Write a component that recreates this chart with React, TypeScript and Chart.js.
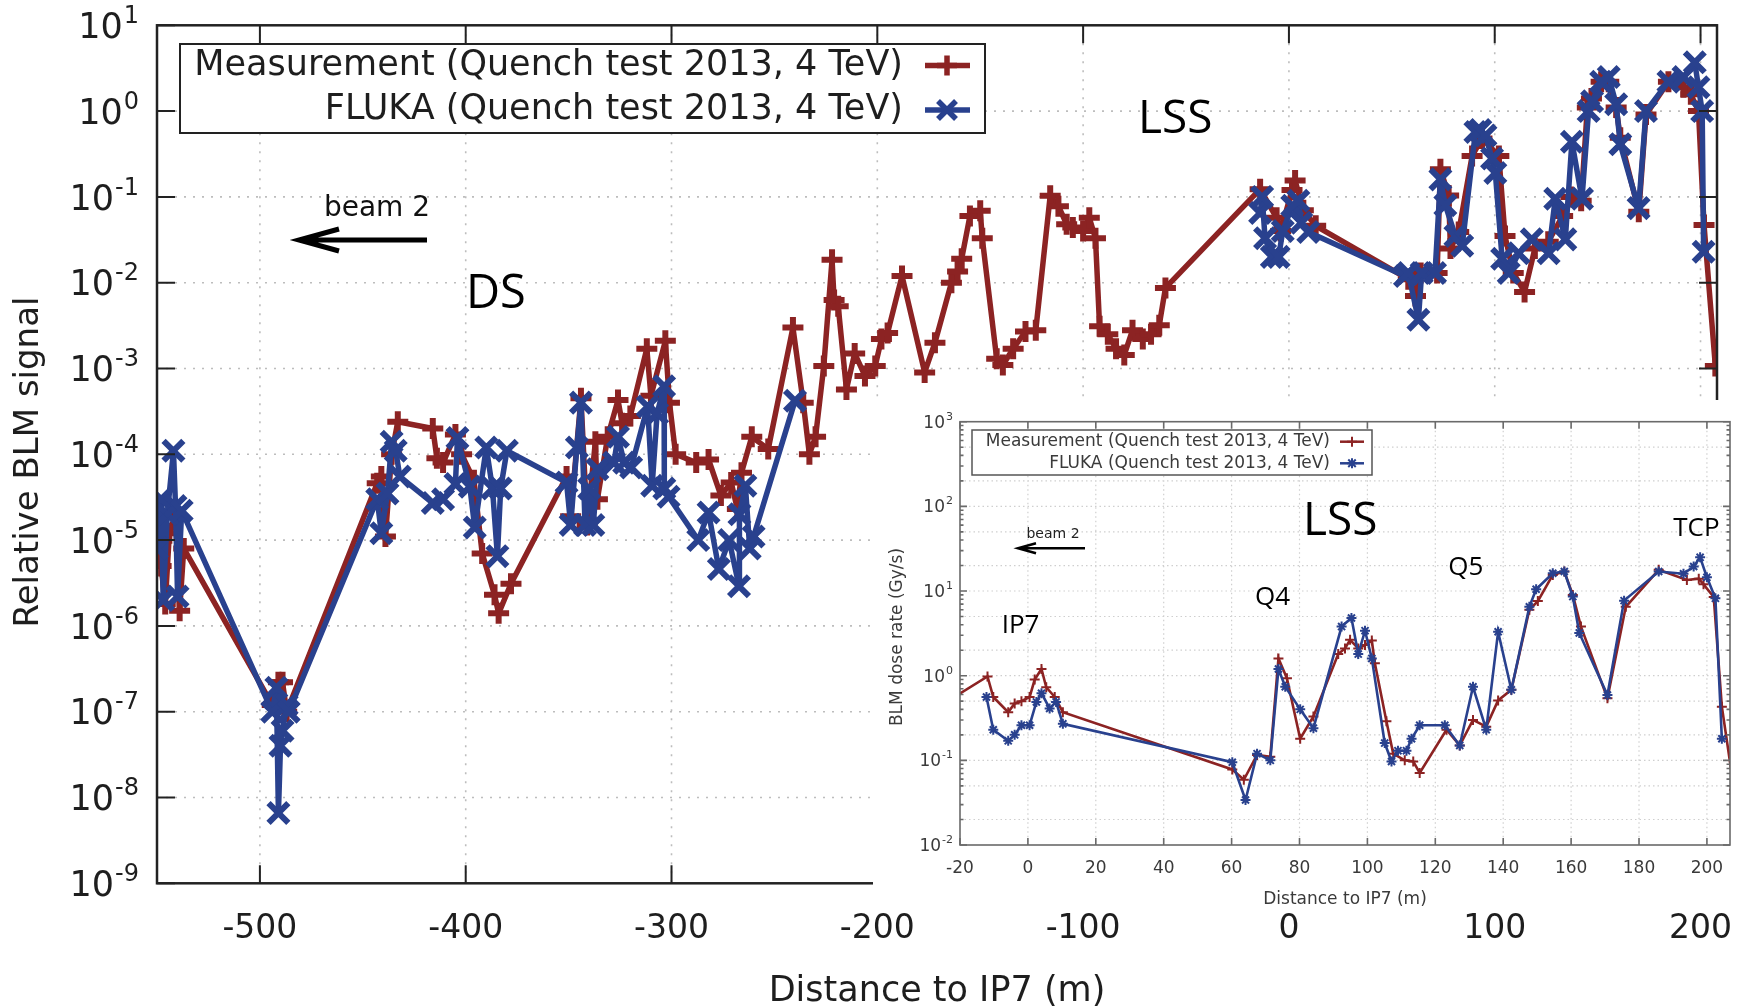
import React, { useEffect, useRef } from "react";
import { Chart, registerables } from "chart.js";

Chart.register(...registerables);

const RED = "#8c2323";
const BLUE = "#29418e";
const GNU_FONT = '"DejaVu Sans", sans-serif';
const ANNO_FONT = '"Open Sans", "Noto Sans", sans-serif';

// ---------- Main chart data ----------
const measX = [
  -550, -548, -546, -544, -541, -539, -537,
  -494, -491, -489, -487,
  -443, -441, -439, -436, -433, -416, -414, -411, -405, -402, -396, -392, -386, -384, -378,
  -351, -349, -344, -341, -337, -336, -331, -326, -324, -320, -312, -310, -303, -301, -298,
  -288, -282, -276, -271, -268, -266, -261, -253, -241, -236, -233, -230, -226, -222, -221,
  -219, -215, -211, -206, -201, -198, -195, -188, -177, -172, -164, -161, -159, -155, -150,
  -149, -142, -139, -134, -128, -123, -116, -112, -108, -105, -100, -97, -94, -92, -88, -84,
  -80, -76, -71, -67, -63, -60,
  -14, -6, -4, 1.5, 3, 7, 13,
  58, 61.5, 64, 72, 73.6, 77.6, 78.5, 82.5, 89, 93.8, 102, 105, 109, 114.5, 119.5, 126, 133,
  137, 142, 145, 147, 151.7, 155.4, 159, 161, 170, 173.5, 184.4, 191.7, 195.3, 199, 201.7, 207.2,
];
const measY = [
  1e-5, 5e-6, 1.8e-6, 1.2e-5, 2e-5, 1.5e-6, 8e-6,
  1.2e-7, 2.2e-7, 2.2e-7, 1e-7,
  4.6e-5, 5.5e-5, 1.1e-5, 1e-4, 2.4e-4, 2e-4, 9e-5, 8e-5, 1.7e-4, 1e-4, 5e-5, 7e-6, 2.3e-6, 1.4e-6, 3.1e-6,
  5.5e-5, 1.9e-5, 4.5e-4, 1.5e-5, 1.4e-4, 3e-5, 1.6e-4, 4.3e-4, 2.3e-4, 2.8e-4, 1.7e-3, 4.8e-4, 2.1e-3, 4e-4, 1e-4,
  8e-5, 8.7e-5, 3.3e-5, 4.7e-5, 2.3e-5, 6.1e-5, 1.6e-4, 1.15e-4, 3e-3, 4e-4, 1e-4, 1.6e-4, 1.07e-3, 1.85e-2, 6.3e-3,
  5.3e-3, 5.7e-4, 1.5e-3, 8.2e-4, 1.07e-3, 2.2e-3, 2.6e-3, 1.2e-2, 9e-4, 2e-3, 1e-2, 1.35e-2, 1.9e-2, 6e-2, 6.9e-2,
  3.3e-2, 1.3e-3, 1.1e-3, 1.7e-3, 2.7e-3, 2.8e-3, 1.03e-1, 7.8e-2, 4.8e-2, 4.4e-2, 4e-2, 5.7e-2, 3.3e-2, 3.1e-3, 2.5e-3, 1.7e-3,
  1.44e-3, 2.8e-3, 2.2e-3, 2.5e-3, 3.2e-3, 8.7e-3,
  1.23e-1, 5.7e-2, 4e-2, 1.2e-1, 1.55e-1, 7e-2, 4.6e-2,
  1.1e-2, 7e-3, 1.3e-2, 1.3e-2, 0.21, 0.104, 2.5e-2, 3.9e-2, 0.3, 0.48, 0.3, 3.5e-2, 1.3e-2, 7.8e-3, 2.5e-2, 3e-2, 6e-2,
  0.1, 9e-2, 1.1, 1.4, 2.2, 2.2, 1.1, 0.49, 0.067, 0.91, 2.2, 1.9, 1.57, 1.0, 0.047, 1.07e-3,
];

const flukaX = [
  -550, -548, -547, -545, -542, -541, -540, -538,
  -494, -492, -491, -490, -489, -487, -486,
  -443, -441, -438, -436, -434, -432, -416, -411, -405, -404, -398, -395.6, -390, -387, -384.6, -383, -380,
  -351, -349, -346, -344, -342, -340, -338, -336, -328, -326, -323, -319.6, -311.6, -309.4, -307, -303.6, -303.5, -301.4,
  -287, -282, -277, -272, -267.2, -267, -264.1, -262, -260.1, -240,
  -150,
  -14, -13, -11.6, -8.3, -5, -3, 1.6, 4.6, 6, 9.4,
  56.4, 58, 62.9, 64.5, 71, 73.6, 76, 80.9, 84.2, 90.6, 93, 95.5, 98.7, 100.3, 103.6, 106.8, 111.6, 118,
  126.2, 129.4, 134.3, 137.5, 142.4, 145.6, 147.3, 151.7, 155.4, 159, 161, 169.9, 173.5, 184.4, 191.7,
  197.2, 199, 200.8, 201.5,
];
const flukaY = [
  8e-6, 3e-5, 2e-6, 2e-5, 1.1e-4, 2.5e-5, 2.2e-6, 2.2e-5,
  1e-7, 1.9e-7, 6.6e-9, 4e-8, 6e-8, 1.2e-7, 1e-7,
  3e-5, 1.2e-5, 3.5e-5, 1.4e-4, 1.1e-4, 5.5e-5, 2.7e-5, 3e-5, 4.5e-5, 1.55e-4, 4.2e-5, 1.4e-5, 1.2e-4, 4e-5, 6.5e-6, 4e-5, 1.1e-4,
  4.7e-5, 1.5e-5, 1.2e-4, 4e-4, 1.5e-5, 4e-5, 1.5e-5, 6.7e-5, 8e-5, 1.6e-4, 8e-5, 7e-5, 3.6e-4, 4.3e-5, 3e-4, 6.2e-4, 4e-5, 3.2e-5,
  1e-5, 2.1e-5, 4.6e-6, 1e-5, 2.9e-6, 2e-5, 4.3e-5, 8e-6, 1.1e-5, 4.2e-4,
  null,
  6.5e-2, 0.1, 3.3e-2, 2e-2, 2e-2, 4e-2, 7.9e-2, 9e-2, 5e-2, 3.9e-2,
  1.2e-2, 1.3e-2, 3.7e-3, 1.3e-2, 1.3e-2, 0.16, 8e-2, 3.5e-2, 2.7e-2, 0.57, 0.6, 0.52, 0.28, 0.19, 1.9e-2, 1.3e-2, 2.2e-2, 3.2e-2,
  2.2e-2, 9.5e-2, 3.2e-2, 0.44, 9.5e-2, 1.0, 1.3, 2.2, 2.5, 1.2, 0.41, 0.074, 1.0, 2.2, 2.5,
  3.7, 1.9, 1.0, 0.023,
];

// ---------- Inset data ----------
const insetMeasX = [
  -22, -11.9, -10.2, -5.8, -3.9, -1.9, 0.5, 2, 4, 5.4, 7.9, 10.3,
  60.2, 63.6, 67.5, 71.4, 73.8, 76.3, 80.2, 84.1, 91.4, 93.4, 94.9, 97.3, 99.3, 101.3, 102.2,
  105.6, 107.6, 111, 113.5, 115.4, 123.3, 127.2, 131.1, 135, 138.5, 142.4, 147.7, 150.2, 154.6,
  158, 160.5, 162.9, 170.7, 176.1, 185.8, 194.1, 197.6, 199, 202, 204.4, 208,
];
const insetMeasY = [
  0.55, 0.98, 0.56, 0.37, 0.47, 0.5, 0.56, 0.9, 1.2, 0.73, 0.56, 0.37,
  0.078, 0.059, 0.116, 0.11, 1.6, 0.93, 0.18, 0.33, 1.8, 2.1, 2.65, 2.1, 2.3, 2.6, 1.4,
  0.29, 0.12, 0.1, 0.097, 0.071, 0.23, 0.15, 0.3, 0.25, 0.51, 0.68, 6, 7.6, 15.5,
  17, 9, 3.8, 0.54, 6.5, 17.8, 13.5, 14, 12, 8.5, 0.43, 0.045,
];
const insetFlukaX = [
  -12.2, -10.2, -5.8, -3.9, -1.9, 0.5, 2.5, 4, 6.4, 8.3, 10.3,
  60.2, 64.1, 67.5, 71.4, 73.8, 75.8, 80.2, 84.1, 92.4, 95.3, 97.3, 99.3, 101.3,
  105.1, 107.1, 109, 111.5, 113, 115.4, 122.8, 127.2, 131.1, 135, 138.5, 142.4, 147.7, 149.7,
  154.6, 158, 160.5, 162.4, 170.7, 175.6, 185.8, 193.1, 196.1, 198, 200, 202.5, 204.4,
];
const insetFlukaY = [
  0.56, 0.23, 0.17, 0.2, 0.26, 0.26, 0.49, 0.62, 0.41, 0.49, 0.27,
  0.095, 0.034, 0.12, 0.1, 1.2, 0.74, 0.4, 0.24, 3.8, 4.8, 1.8, 3.4, 1.6,
  0.16, 0.097, 0.13, 0.13, 0.18, 0.26, 0.26, 0.15, 0.74, 0.23, 3.3, 0.68, 6.5, 10.5,
  16.2, 17, 8.6, 3.2, 0.59, 7.7, 17, 16, 19.5, 25, 14.5, 8.2, 0.18,
];

// ---------- Labels and ticks ----------
const seriesLabels = [
  "Measurement (Quench test 2013, 4 TeV)",
  "FLUKA (Quench test 2013, 4 TeV)",
];
const mainXTicks = [-500, -400, -300, -200, -100, 0, 100, 200];
const mainYExps = [1, 0, -1, -2, -3, -4, -5, -6, -7, -8, -9];
const insetXTicks = [-20, 0, 20, 40, 60, 80, 100, 120, 140, 160, 180, 200];
const insetYExps = [3, 2, 1, 0, -1, -2];
const mainXTitle = "Distance to IP7 (m)";
const mainYTitle = "Relative BLM signal";
const insetXTitle = "Distance to IP7 (m)";
const insetYTitle = "BLM dose rate (Gy/s)";

function pts(xs: number[], ys: (number | null)[]) {
  return xs.map((x, i) => ({ x, y: ys[i] }));
}

function drawPow(ctx: any, exp: number, xRight: number, yc: number, bs: number, es: number, raise: number, font: string) {
  ctx.font = `${bs}px ${font}`;
  const bw = ctx.measureText("10").width;
  ctx.font = `${es}px ${font}`;
  const es_ = String(exp);
  const ew = ctx.measureText(es_).width;
  const x0 = xRight - ew - bw - 1;
  ctx.textAlign = "left";
  ctx.textBaseline = "alphabetic";
  const base = yc + bs * 0.36;
  ctx.font = `${bs}px ${font}`;
  ctx.fillText("10", x0, base);
  ctx.font = `${es}px ${font}`;
  ctx.fillText(es_, x0 + bw + 1, base - raise);
}

function drawMarker(ctx: any, kind: string, x: number, y: number, r: number) {
  ctx.beginPath();
  if (kind === "plus" || kind === "star") {
    ctx.moveTo(x - r, y); ctx.lineTo(x + r, y);
    ctx.moveTo(x, y - r); ctx.lineTo(x, y + r);
  }
  if (kind === "x" || kind === "star") {
    const d = r * 0.75;
    ctx.moveTo(x - d, y - d); ctx.lineTo(x + d, y + d);
    ctx.moveTo(x - d, y + d); ctx.lineTo(x + d, y - d);
  }
  ctx.stroke();
}

function drawArrow(ctx: any, x1: number, x2: number, y: number, head: number, half: number, lw: number) {
  ctx.save();
  ctx.strokeStyle = "#000";
  ctx.lineWidth = lw;
  ctx.lineCap = "butt";
  ctx.beginPath();
  ctx.moveTo(x1, y); ctx.lineTo(x2, y);
  ctx.moveTo(x2 + head, y - half); ctx.lineTo(x2, y); ctx.lineTo(x2 + head, y + half);
  ctx.stroke();
  ctx.restore();
}

const mainDecor = {
  id: "mainDecor",
  beforeDatasetsDraw(chart: any) {
    const { ctx, chartArea: a, scales } = chart;
    const xs = scales.x, ys = scales.y;
    ctx.save();
    ctx.strokeStyle = "#bdbdbd";
    ctx.lineWidth = 1.6;
    ctx.setLineDash([2, 7]);
    ctx.beginPath();
    for (const v of mainXTicks) {
      const px = xs.getPixelForValue(v);
      ctx.moveTo(px, a.top); ctx.lineTo(px, a.bottom);
    }
    for (const e of mainYExps) {
      const py = ys.getPixelForValue(Math.pow(10, e));
      if (py <= a.top + 1 || py >= a.bottom - 1) continue;
      ctx.moveTo(a.left, py); ctx.lineTo(a.right, py);
    }
    ctx.stroke();
    ctx.restore();
  },
  afterDatasetsDraw(chart: any) {
    const { ctx, chartArea: a, scales } = chart;
    const xs = scales.x, ys = scales.y;
    ctx.save();
    ctx.setLineDash([]);
    ctx.strokeStyle = "#222";
    ctx.lineWidth = 2.5;
    ctx.strokeRect(a.left, a.top, a.right - a.left, a.bottom - a.top);
    ctx.lineWidth = 2;
    const TL = 18;
    ctx.beginPath();
    for (const v of mainXTicks) {
      const px = xs.getPixelForValue(v);
      ctx.moveTo(px, a.bottom); ctx.lineTo(px, a.bottom - TL);
      ctx.moveTo(px, a.top); ctx.lineTo(px, a.top + TL);
    }
    for (const e of mainYExps) {
      const py = ys.getPixelForValue(Math.pow(10, e));
      ctx.moveTo(a.left, py); ctx.lineTo(a.left + TL, py);
      ctx.moveTo(a.right, py); ctx.lineTo(a.right - TL, py);
    }
    ctx.stroke();

    // tick labels
    ctx.fillStyle = "#1e1e1e";
    ctx.font = `33px ${GNU_FONT}`;
    ctx.textAlign = "center";
    ctx.textBaseline = "middle";
    for (const v of mainXTicks) ctx.fillText(String(v), xs.getPixelForValue(v), 929);
    for (const e of mainYExps) drawPow(ctx, e, 139, ys.getPixelForValue(Math.pow(10, e)), 35, 24, 15, GNU_FONT);

    // axis titles
    ctx.font = `35px ${GNU_FONT}`;
    ctx.textAlign = "center";
    ctx.textBaseline = "middle";
    ctx.fillText(mainXTitle, (a.left + a.right) / 2, 992);
    ctx.save();
    ctx.translate(29, 462);
    ctx.rotate(-Math.PI / 2);
    ctx.font = `34px ${GNU_FONT}`;
    ctx.fillText(mainYTitle, 0, 0);
    ctx.restore();

    // legend
    ctx.fillStyle = "#fff";
    ctx.fillRect(180, 44, 805, 89);
    ctx.strokeStyle = "#222";
    ctx.lineWidth = 2;
    ctx.strokeRect(180, 44, 805, 89);
    ctx.font = `35px ${GNU_FONT}`;
    ctx.textAlign = "right";
    ctx.textBaseline = "middle";
    const rows = [
      { y: 65.5, label: seriesLabels[0], color: RED, m: "plus" },
      { y: 110, label: seriesLabels[1], color: BLUE, m: "x" },
    ];
    for (const r of rows) {
      ctx.fillStyle = "#1e1e1e";
      ctx.fillText(r.label, 903, r.y);
      ctx.strokeStyle = r.color;
      ctx.lineWidth = 5.5;
      ctx.beginPath();
      ctx.moveTo(925, r.y); ctx.lineTo(970, r.y);
      ctx.stroke();
      ctx.lineWidth = 5.5;
      drawMarker(ctx, r.m, 947, r.y, r.m === "plus" ? 10 : 12);
    }

    // annotations
    ctx.fillStyle = "#111";
    ctx.font = `28px ${GNU_FONT}`;
    ctx.textAlign = "center";
    ctx.textBaseline = "alphabetic";
    ctx.fillText("beam 2", 377, 216);
    drawArrow(ctx, 427, 299, 240, 40, 11, 5);
    ctx.fillStyle = "#000";
    ctx.font = `47px ${ANNO_FONT}`;
    ctx.textAlign = "left";
    ctx.fillText("DS", 466, 308);
    ctx.font = `46px ${ANNO_FONT}`;
    ctx.fillText("LSS", 1138, 133);
    ctx.restore();
  },
};

const INSET_LEFT = 873;
const INSET_TOP = 400;
const INSET_W = 1737 - INSET_LEFT;
const INSET_H = 510;

const insetDecor = {
  id: "insetDecor",
  beforeDraw(chart: any) {
    const { ctx, width, height } = chart;
    ctx.save();
    ctx.fillStyle = "#fff";
    ctx.fillRect(0, 0, width, height);
    ctx.restore();
  },
  beforeDatasetsDraw(chart: any) {
    const { ctx, chartArea: a, scales } = chart;
    const xs = scales.x, ys = scales.y;
    ctx.save();
    ctx.strokeStyle = "#cfcfcf";
    ctx.lineWidth = 1.2;
    ctx.setLineDash([1.5, 3]);
    ctx.beginPath();
    for (const v of insetXTicks) {
      const px = xs.getPixelForValue(v);
      if (px <= a.left + 1) continue;
      ctx.moveTo(px, a.top); ctx.lineTo(px, a.bottom);
    }
    for (const e of insetYExps) {
      for (const m of [1, 2, 5]) {
        const v = m * Math.pow(10, e);
        const py = ys.getPixelForValue(v);
        if (py <= a.top + 1 || py >= a.bottom - 1) continue;
        ctx.moveTo(a.left, py); ctx.lineTo(a.right, py);
      }
    }
    ctx.stroke();
    ctx.restore();
  },
  afterDatasetsDraw(chart: any) {
    const { ctx, chartArea: a, scales } = chart;
    const xs = scales.x, ys = scales.y;
    ctx.save();
    ctx.setLineDash([]);
    ctx.strokeStyle = "#6a6a6a";
    ctx.lineWidth = 1.6;
    ctx.strokeRect(a.left, a.top, a.right - a.left, a.bottom - a.top);
    ctx.beginPath();
    for (const v of insetXTicks) {
      const px = xs.getPixelForValue(v);
      ctx.moveTo(px, a.bottom); ctx.lineTo(px, a.bottom - 7);
      ctx.moveTo(px, a.top); ctx.lineTo(px, a.top + 7);
    }
    for (const e of insetYExps) {
      for (let m = 1; m <= 9; m++) {
        const v = m * Math.pow(10, e);
        const py = ys.getPixelForValue(v);
        if (py < a.top - 0.5 || py > a.bottom + 0.5) continue;
        const tl = m === 1 ? 7 : 3.5;
        ctx.moveTo(a.left, py); ctx.lineTo(a.left + tl, py);
        ctx.moveTo(a.right, py); ctx.lineTo(a.right - tl, py);
      }
    }
    ctx.stroke();

    ctx.fillStyle = "#3a3a3a";
    ctx.font = `17px ${GNU_FONT}`;
    ctx.textAlign = "center";
    ctx.textBaseline = "middle";
    for (const v of insetXTicks) ctx.fillText(String(v), xs.getPixelForValue(v), 469);
    for (const e of insetYExps) drawPow(ctx, e, 80, ys.getPixelForValue(Math.pow(10, e)), 17, 11, 8, GNU_FONT);

    ctx.font = `17px ${GNU_FONT}`;
    ctx.textAlign = "center";
    ctx.textBaseline = "middle";
    ctx.fillText(insetXTitle, (a.left + a.right) / 2, 500);
    ctx.save();
    ctx.translate(25, 237);
    ctx.rotate(-Math.PI / 2);
    ctx.fillText(insetYTitle, 0, 0);
    ctx.restore();

    // legend
    ctx.fillStyle = "#fff";
    ctx.fillRect(99, 30, 400, 45);
    ctx.strokeStyle = "#555";
    ctx.lineWidth = 1.5;
    ctx.strokeRect(99, 30, 400, 45);
    ctx.font = `17px ${GNU_FONT}`;
    ctx.textAlign = "right";
    const rows = [
      { y: 41.7, label: seriesLabels[0], color: RED, m: "plus" },
      { y: 63.3, label: seriesLabels[1], color: BLUE, m: "star" },
    ];
    for (const r of rows) {
      ctx.fillStyle = "#3a3a3a";
      ctx.fillText(r.label, 457, r.y);
      ctx.strokeStyle = r.color;
      ctx.lineWidth = 2.5;
      ctx.beginPath();
      ctx.moveTo(467, r.y); ctx.lineTo(491, r.y);
      ctx.stroke();
      ctx.lineWidth = 2;
      drawMarker(ctx, r.m, 479, r.y, 5);
    }

    // annotations
    ctx.fillStyle = "#222";
    ctx.font = `14px ${GNU_FONT}`;
    ctx.textAlign = "center";
    ctx.textBaseline = "alphabetic";
    ctx.fillText("beam 2", 180, 138);
    drawArrow(ctx, 212, 145, 148.3, 18, 5, 2.5);
    ctx.fillStyle = "#000";
    ctx.textAlign = "left";
    ctx.font = `46px ${ANNO_FONT}`;
    ctx.fillText("LSS", 430, 135);
    ctx.font = `26px ${ANNO_FONT}`;
    ctx.fillText("IP7", 128.7, 232.7);
    ctx.fillText("Q4", 382, 205);
    ctx.fillText("Q5", 575.3, 175);
    ctx.fillText("TCP", 800.3, 136);
    ctx.restore();
  },
};

export default function App() {
  const mainRef = useRef<HTMLCanvasElement | null>(null);
  const insetRef = useRef<HTMLCanvasElement | null>(null);

  useEffect(() => {
    if (!mainRef.current || !insetRef.current) return;
    const main = new Chart(mainRef.current, {
      type: "line",
      data: {
        datasets: [
          {
            label: seriesLabels[1],
            data: pts(flukaX, flukaY),
            borderColor: BLUE,
            backgroundColor: BLUE,
            borderWidth: 5.5,
            pointStyle: "crossRot",
            pointRadius: 14,
            pointBorderWidth: 6,
            pointBorderColor: BLUE,
            spanGaps: false,
            tension: 0,
            borderJoinStyle: "round",
            borderCapStyle: "round",
          },
          {
            label: seriesLabels[0],
            data: pts(measX, measY),
            borderColor: RED,
            backgroundColor: RED,
            borderWidth: 5.5,
            pointStyle: "cross",
            pointRadius: 10.5,
            pointBorderWidth: 6,
            pointBorderColor: RED,
            spanGaps: false,
            tension: 0,
            borderJoinStyle: "round",
            borderCapStyle: "round",
          },
        ],
      } as any,
      options: {
        responsive: false,
        animation: false,
        events: [],
        layout: { padding: { left: 157, top: 25.3, right: 18.5, bottom: 123.7 } },
        plugins: { legend: { display: false }, tooltip: { enabled: false } },
        scales: {
          x: { type: "linear", min: -550, max: 208, display: false },
          y: { type: "logarithmic", min: 1e-9, max: 10, display: false },
        },
      } as any,
      plugins: [mainDecor],
    });

    const inset = new Chart(insetRef.current, {
      type: "line",
      data: {
        datasets: [
          {
            label: seriesLabels[1],
            data: pts(insetFlukaX, insetFlukaY),
            borderColor: BLUE,
            backgroundColor: BLUE,
            borderWidth: 2.6,
            pointStyle: "star",
            pointRadius: 5,
            pointBorderWidth: 2,
            pointBorderColor: BLUE,
            tension: 0,
          },
          {
            label: seriesLabels[0],
            data: pts(insetMeasX, insetMeasY),
            borderColor: RED,
            backgroundColor: RED,
            borderWidth: 2.6,
            pointStyle: "cross",
            pointRadius: 5,
            pointBorderWidth: 2,
            pointBorderColor: RED,
            tension: 0,
          },
        ],
      } as any,
      options: {
        responsive: false,
        animation: false,
        events: [],
        layout: { padding: { left: 87, top: 21.7, right: 3.7, bottom: INSET_H - 445 } },
        plugins: { legend: { display: false }, tooltip: { enabled: false } },
        scales: {
          x: { type: "linear", min: -20, max: 206.8, display: false },
          y: { type: "logarithmic", min: 1e-2, max: 1e3, display: false },
        },
      } as any,
      plugins: [insetDecor],
    });

    return () => {
      main.destroy();
      inset.destroy();
    };
  }, []);

  return (
    <div style={{ position: "absolute", left: 0, top: 0, width: 1737, height: 1007, overflow: "hidden", background: "#fff" }}>
      <canvas ref={mainRef} width={1737} height={1007} style={{ position: "absolute", left: 0, top: 0, width: 1737, height: 1007 }} />
      <canvas
        ref={insetRef}
        width={INSET_W}
        height={INSET_H}
        style={{ position: "absolute", left: INSET_LEFT, top: INSET_TOP, width: INSET_W, height: INSET_H }}
      />
    </div>
  );
}
